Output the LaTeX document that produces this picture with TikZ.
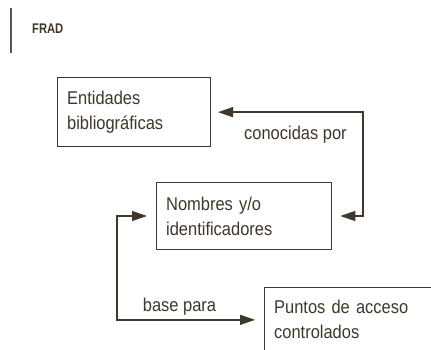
\documentclass[tikz,border=0pt]{standalone}
\usepackage{fontspec}
\setmainfont{Liberation Sans}[FakeStretch=0.89]
\usetikzlibrary{arrows.meta}
\definecolor{ink}{HTML}{3F372C}
\tikzset{
  box/.style={draw=ink, line width=1.3pt, anchor=north west, align=left,
    inner xsep=9.5pt, inner ysep=0pt, text=ink,
    font=\fontsize{18.5}{25}\selectfont},
  conn/.style={draw=ink, line width=1.3pt, {Triangle[length=15pt,width=10pt]}-{Triangle[length=15pt,width=10pt]}},
  lbl/.style={anchor=base west, inner sep=0pt, text=ink, font=\fontsize{18.5}{25}\selectfont},
}
\begin{document}
\begin{tikzpicture}[x=1pt,y=-1pt]
\clip (0,0) rectangle (431,350);
\fill[white] (0,0) rectangle (431,350);
\draw[ink!85, line width=1.5pt] (11,8) -- (11,53);
\node[anchor=base west, inner sep=0pt, text=ink, font=\addfontfeature{FakeStretch=0.8}\bfseries\fontsize{14}{16}\selectfont] (title) at (32,34) {FRAD};
\node[box, text width=134pt, minimum height=69pt] (b1) at (57,77) {Entidades\\bibliográficas};
\node[box, text width=156pt, minimum height=67.3pt] (b2) at (156,181.7) {Nombres y/o\\identificadores};
\node[box, text width=181pt, minimum height=65pt] (b3) at (264,286.7) {Puntos de acceso\\controlados};
\coordinate (rc) at (363,0);
\coordinate (lc) at (117,0);
\draw[conn, shorten <=6.7pt, shorten >=8pt] (b1.east) -- (b1.east -| rc) -- (b2.east -| rc) -- (b2.east);
\draw[conn, shorten <=9pt, shorten >=9pt] (b2.west) -- (b2.west -| lc) -- (b3.west -| lc) -- (b3.west);
\node[lbl] (l1) at (244,140) {conocidas por};
\node[lbl] (l2) at (142.7,311) {base para};
\end{tikzpicture}
\end{document}
